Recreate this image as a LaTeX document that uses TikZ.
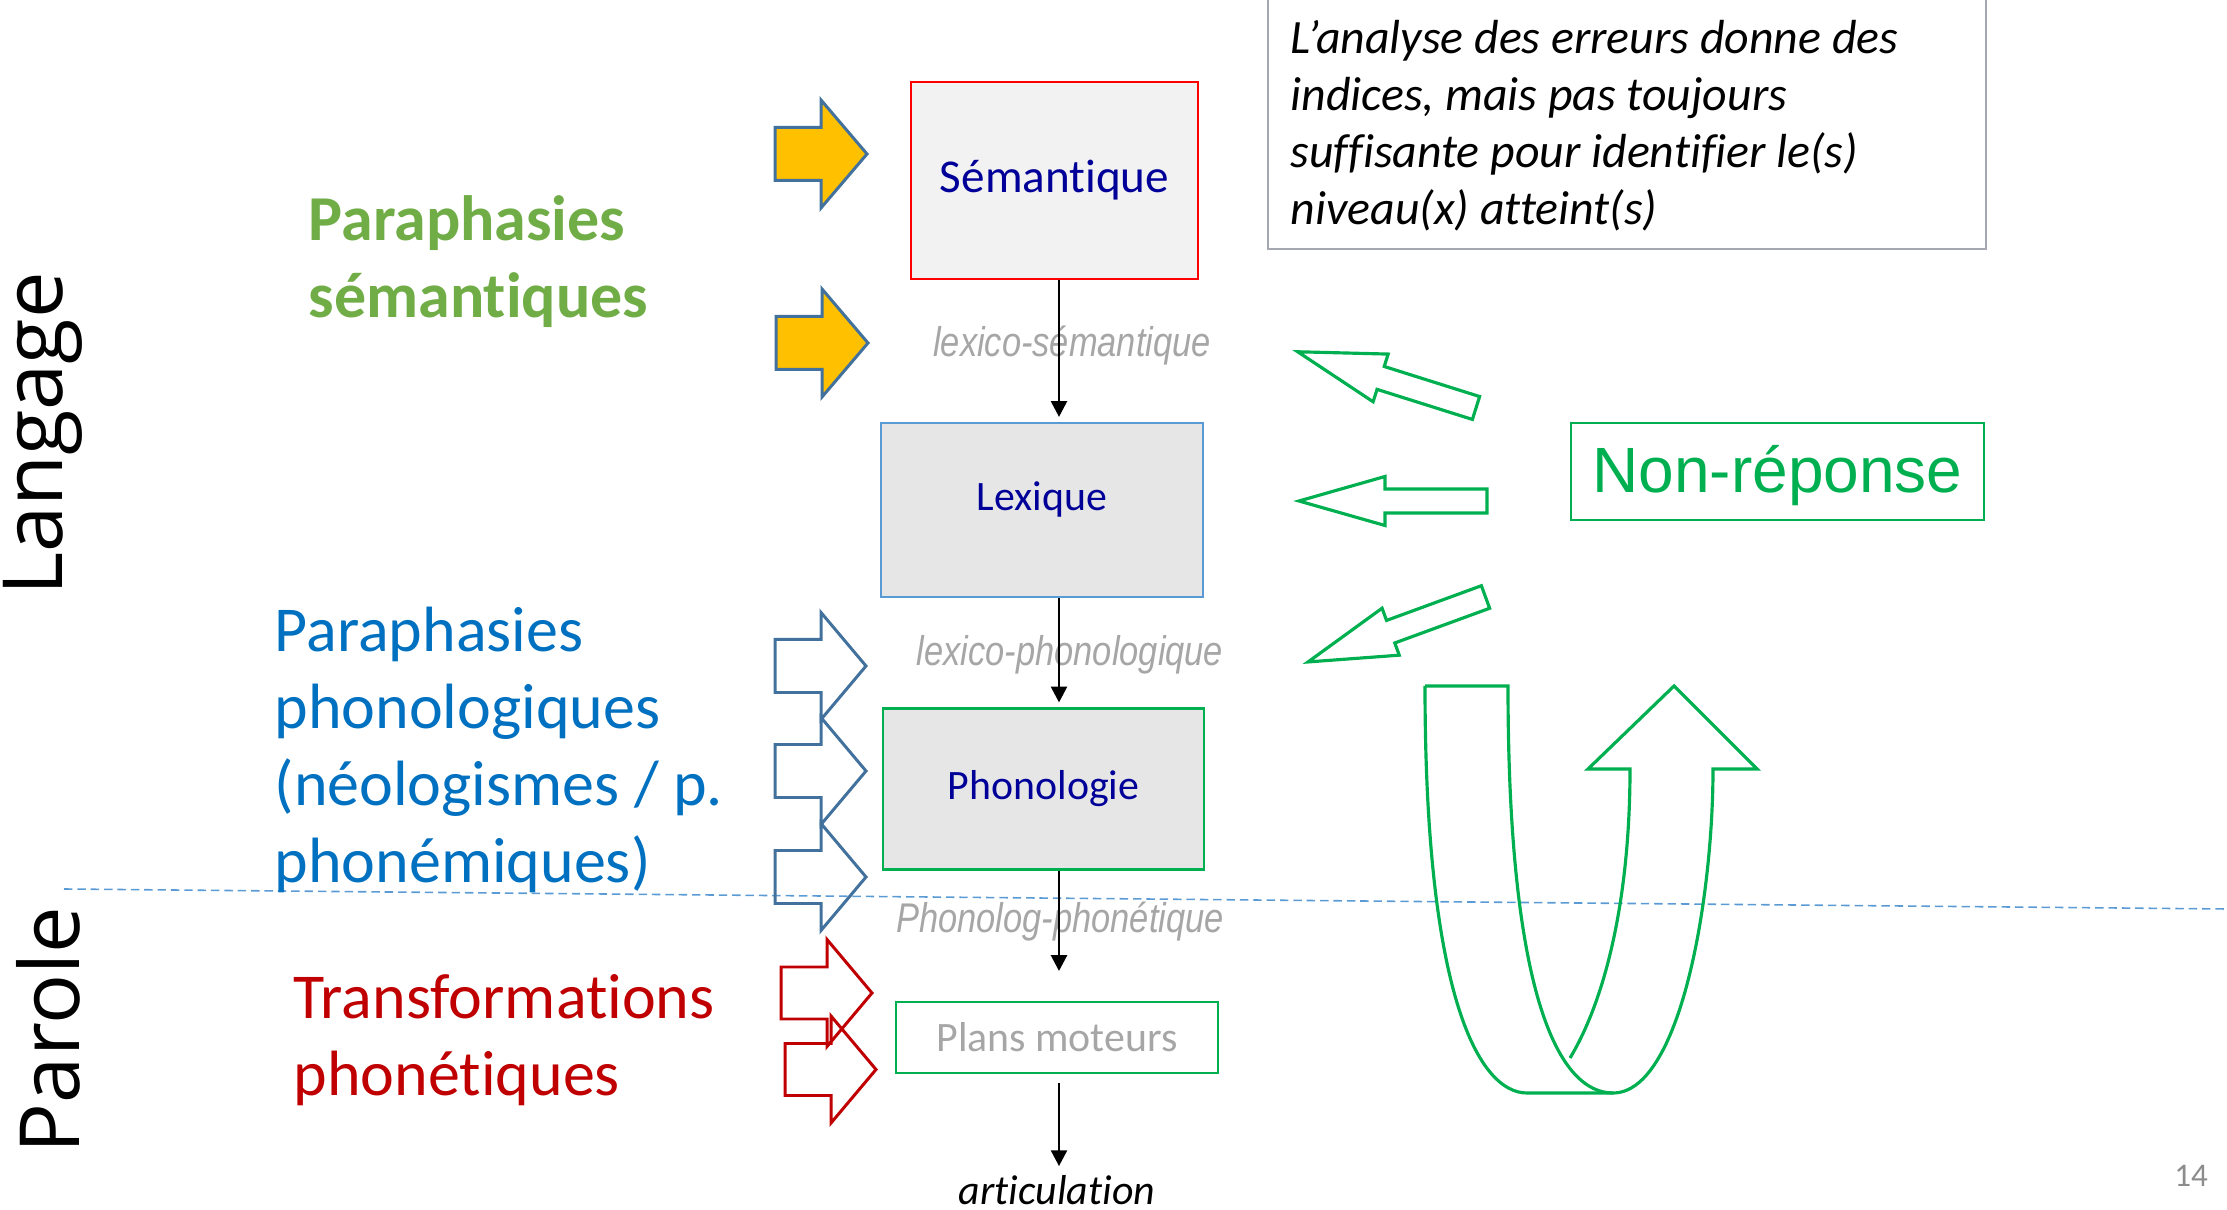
\documentclass[tikz,border=0pt]{standalone}
\usepackage{fontspec}
\setmainfont[Ligatures=NoCommon]{Carlito}
\newfontfamily\arialfont{Liberation Sans}
\newfontfamily\narrowfont[FakeStretch=0.83]{Liberation Sans}
\newfontfamily\titlefont{Open Sans}
\usetikzlibrary{arrows.meta,positioning,calc}

\definecolor{semgreen}{HTML}{70AD47}
\definecolor{phonblue}{HTML}{0070C0}
\definecolor{phonred}{HTML}{C00000}
\definecolor{navytext}{HTML}{000099}
\definecolor{labgray}{HTML}{A6A6A6}
\definecolor{nrgreen}{HTML}{00B050}
\definecolor{steelblue}{HTML}{41719C}
\definecolor{gold}{HTML}{FFC000}
\definecolor{lightblue}{HTML}{5B9BD5}
\definecolor{boxgray}{HTML}{E7E6E6}
\definecolor{semfill}{HTML}{F2F2F2}
\definecolor{framegray}{HTML}{A5A8B0}
\definecolor{pagegray}{HTML}{8C8C8C}

\newcommand{\pxfont}[2]{\fontsize{#1pt}{#2pt}\selectfont}

\tikzset{
  pics/blockarrow/.style n args={4}{code={
    \draw[pic actions] (0,-#3) -- ({#1-#2},-#3) -- ({#1-#2},-#4) -- (#1,0)
      -- ({#1-#2},#4) -- ({#1-#2},#3) -- (0,#3) -- cycle;
  }}
}

\begin{document}
\begin{tikzpicture}[x=0.01cm, y=-0.01cm, every node/.style={inner sep=0pt}]
\tikzset{level/.style={draw, line width=0.6pt, font=\pxfont{11.9}{14}, text=navytext}}
\tikzset{link/.style={font=\narrowfont\itshape\pxfont{11.8}{14}, text=labgray}}
\tikzset{flow/.style={-{Triangle[length=4.5pt,width=4.5pt]}, line width=0.8pt}}
\tikzset{yelarrow/.style={draw=steelblue, fill=gold, line width=0.85pt}}
\tikzset{bluearrow/.style={draw=steelblue, line width=0.85pt}}
\tikzset{redarrow/.style={draw=phonred, line width=0.85pt}}
\tikzset{greenarrow/.style={draw=nrgreen, line width=0.9pt}}
\tikzset{errtext/.style={anchor=west, align=left, font=\pxfont{18.2}{21.9}}}
\tikzset{side/.style={rotate=90, font=\titlefont\pxfont{23.6}{28}}}
\useasboundingbox (0,0) rectangle (2227,1210);

% titres lateraux
\node[side] (langage) at (43,434) {Langage};
\node[side] (parole) at (48,1030) {Parole};
\draw[lightblue, line width=0.45pt, dash pattern=on 2.4pt off 1.4pt] (64,889) -- (2227,909);

% types d'erreurs
\node[errtext, text=semgreen, font={\bfseries\pxfont{18.2}{21.9}}] (parasem) at (308,262) {Paraphasies\\sémantiques};
\node[errtext, text=phonblue] (paraphon) at (274,750) {Paraphasies\\phonologiques\\(néologismes / p.\\phonémiques)};
\node[errtext, text=phonred] (transpho) at (293,1040) {Transformations\\phonétiques};

% fleches vers les niveaux
\pic[yelarrow] at (775,154) {blockarrow={92}{46}{26.5}{54}};
\pic[yelarrow] at (776,343) {blockarrow={92}{46}{26.5}{54}};
\foreach \y in {666,771,877}
  \pic[bluearrow] at (775,\y) {blockarrow={91}{45}{26.5}{53.5}};
\pic[redarrow] at (781,993) {blockarrow={91}{45}{26}{53.5}};
\pic[redarrow] at (785,1069.5) {blockarrow={91}{45}{26}{53.5}};

% niveaux de traitement
\node[level, draw=red, fill=semfill, minimum width=2.87cm, minimum height=1.97cm, font=\pxfont{13.4}{16}] (sem) at (1054.5,180.5) {Sémantique};
\node[level, draw=lightblue, fill=boxgray, minimum width=3.22cm, minimum height=1.74cm, text depth=8pt] (lex) at (1042,510) {Lexique};
\node[level, draw=nrgreen, fill=boxgray, minimum width=3.21cm, minimum height=1.61cm] (pho) at (1043.5,789) {Phonologie};
\node[level, draw=nrgreen, minimum width=3.22cm, minimum height=0.71cm, text=labgray] (mot) at (1057,1037.5) {Plans moteurs};
\node[anchor=base, font=\itshape\pxfont{11.9}{14}] (artic) at (1057,1204) {articulation};

\node[link] (lexsem) at (1072,346) {lexico-sémantique};
\node[link] (lexpho) at (1070,655) {lexico-phonologique};
\node[link] (phopho) at (1060,922) {Phonolog-phonétique};

\coordinate (ax) at (1059,0);
\draw[flow, shorten >=1.4pt] (sem.south -| ax) -- (lex.north -| ax);
\draw[flow, shorten >=1.4pt] (lex.south -| ax) -- (pho.north -| ax);
\draw[flow, shorten >=8.5pt] (pho.south -| ax) -- (mot.north -| ax);
\draw[flow, shorten <=2.6pt, shorten >=2.3pt] (mot.south -| ax) -- (artic.north -| ax);

% remarque
\draw[framegray, line width=0.6pt] (1268,-10) rectangle (1986,249);
\node[anchor=west, align=left, font=\itshape\pxfont{13.6}{16.2}] (note) at (1290,126)
  {L’analyse des erreurs donne des\\indices, mais pas toujours\\suffisante pour identifier le(s)\\niveau(x) atteint(s)};

% non-reponse
\node[draw=nrgreen, line width=0.7pt, minimum width=4.13cm, minimum height=0.97cm, text=nrgreen, font=\arialfont\pxfont{18.2}{22}, text height=16pt] (nonrep) at (1777.5,471.5) {Non-réponse};
\pic[greenarrow, rotate=162.5] at (1476,408) {blockarrow={187}{87}{12}{25}};
\pic[greenarrow, rotate=180] at (1487,501) {blockarrow={188}{86}{12}{24.5}};
\pic[greenarrow, rotate=200.1] at (1485.5,597) {blockarrow={189}{88}{12}{25}};

% demi-tour
\draw[greenarrow] (1425,686) -- (1508,686) .. controls (1508,1000) and (1560,1093) .. (1613,1093)
  .. controls (1680,1093) and (1713,900) .. (1713,769) -- (1757,769) -- (1674,686) -- (1588,769)
  -- (1630,769) .. controls (1630,900) and (1605,1000) .. (1570,1058);
\draw[greenarrow] (1425,686) .. controls (1425,1000) and (1480,1093) .. (1527,1093) -- (1613,1093);

\node[text=pagegray, font=\pxfont{9.4}{11}] (page) at (2191,1176) {14};
\end{tikzpicture}
\end{document}
